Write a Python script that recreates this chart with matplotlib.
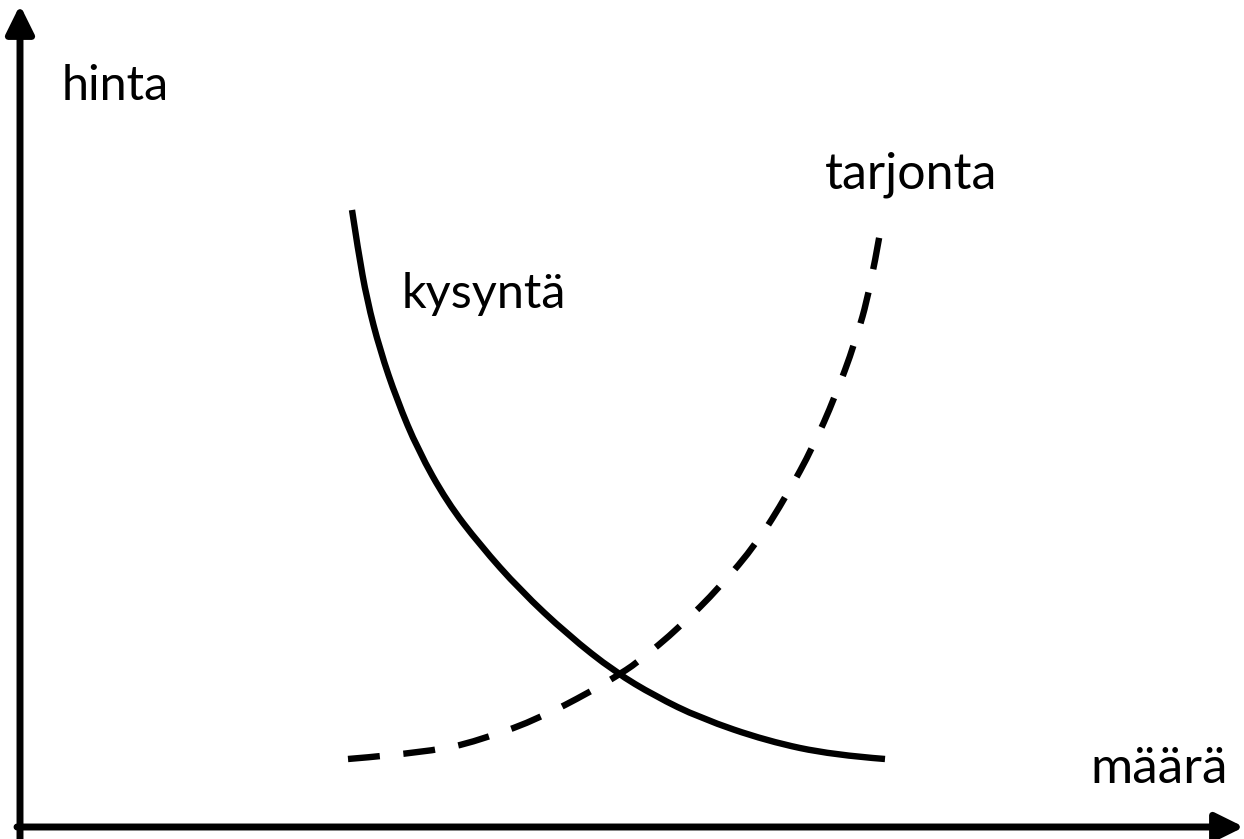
import matplotlib.pyplot as plt
from matplotlib.path import Path
from matplotlib.patches import PathPatch
import numpy as np

plt.rcParams['font.family'] = ['Lato', 'DejaVu Sans']

# Curves (quantity, price), origin at the axis corner
demand_q = [332, 338, 347, 360, 377, 398, 427, 460, 500, 548, 595, 635, 680, 747, 813, 865]
demand_p = [617, 577, 527, 477, 427, 377, 325, 282, 237, 192, 155, 131, 109, 86, 72, 68]

supply_q = [328, 413, 467, 520, 570, 595, 617, 660, 700, 737, 767, 793, 815, 835, 850, 860]
supply_p = [68, 75, 89, 109, 135, 150, 164, 200, 240, 284, 332, 380, 430, 484, 537, 594]

axis_labels = ["hinta", "määrä"]
curve_labels = ["kysyntä", "tarjonta"]


def smooth_path(xs, ys):
    # quadratic bezier through midpoints, the read points act as control points
    pts = np.column_stack([xs, ys]).astype(float)
    verts = [pts[0]]
    codes = [Path.MOVETO]
    for i in range(1, len(pts) - 1):
        mid = (pts[i] + pts[i + 1]) / 2 if i < len(pts) - 2 else pts[i + 1]
        verts += [pts[i], mid]
        codes += [Path.CURVE3, Path.CURVE3]
    return Path(verts, codes)


fig = plt.figure(figsize=(12.44, 8.39), dpi=100)
ax = fig.add_axes([0, 0, 1, 1])
ax.set_xlim(-20, 1224)
ax.set_ylim(-12, 827)
ax.axis('off')

# Axes with arrowheads
arrow = dict(arrowstyle='-|>,head_length=0.85,head_width=0.42', lw=5, color='black',
             mutation_scale=20, shrinkA=0, shrinkB=0)
ax.annotate('', xy=(0, 822), xytext=(0, -12), arrowprops=arrow)
ax.annotate('', xy=(1224, 0), xytext=(-3, 0), arrowprops=arrow)

# Demand (solid) and supply (dashed)
demand = PathPatch(smooth_path(demand_q, demand_p), fill=False, edgecolor='black',
                   lw=4.6, capstyle='butt')
supply = PathPatch(smooth_path(supply_q, supply_p), fill=False, edgecolor='black',
                   lw=4.6, linestyle=(0, (5, 3.7)), capstyle='butt')
ax.add_patch(demand)
ax.add_patch(supply)

ax.text(42, 727, axis_labels[0], fontsize=35, ha='left', va='baseline')
ax.text(1208, 44, axis_labels[1], fontsize=37, ha='right', va='baseline')
ax.text(382, 519, curve_labels[0], fontsize=35, ha='left', va='baseline')
ax.text(805, 639, curve_labels[1], fontsize=36, ha='left', va='baseline')

fig.savefig('out.png', dpi=100)
